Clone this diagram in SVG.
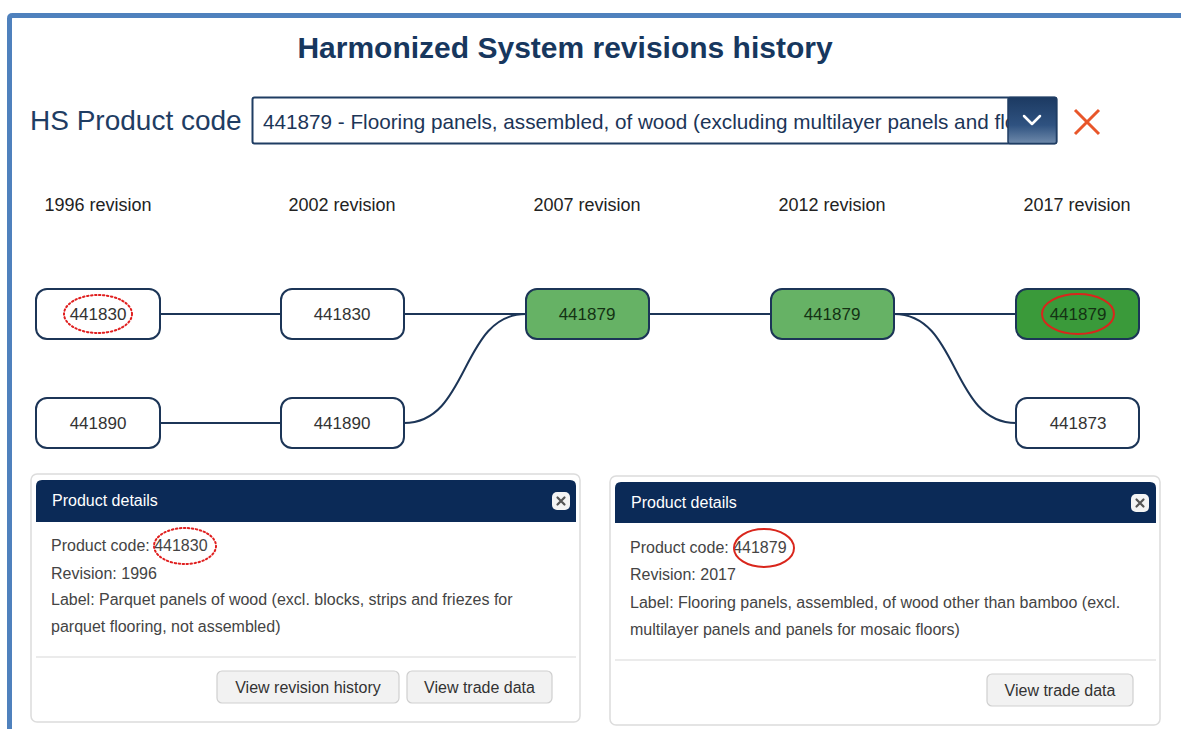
<svg xmlns="http://www.w3.org/2000/svg" width="1181" height="729" viewBox="0 0 1181 729">
  <defs>
    <style>
      text { font-family: "Liberation Sans", Arial, sans-serif; }
      .rev { font-size: 18px; fill: #222; text-anchor: middle; }
      .node { fill: #fff; stroke: #1c3557; stroke-width: 2; }
      .node.g1 { fill: #66b265; }
      .node.g2 { fill: #3a9a3a; }
      .ntxt { font-size: 17px; fill: #333; text-anchor: middle; }
      .ntxt.dk { fill: #143214; }
      .conn { fill: none; stroke: #1c3557; stroke-width: 2; }
      .panel { fill: #fff; stroke: #dcdcdc; stroke-width: 1.5; }
      .phead { fill: #0b2a57; }
      .ptitle { font-size: 16px; fill: #fff; }
      .body { font-size: 16px; fill: #444; }
      .sep { stroke: #e5e5e5; stroke-width: 1.5; }
      .btn { fill: #f2f2f2; stroke: #cfcfcf; stroke-width: 1.2; }
      .btxt { font-size: 16px; fill: #333; text-anchor: middle; }
      .close { fill: #f4f4f4; }
      .closex { stroke: #555; stroke-width: 2.2; stroke-linecap: round; }
      .hl-dot { fill: none; stroke: #e02020; stroke-width: 2; stroke-dasharray: 1.5 2.5; stroke-linecap: round; }
      .hl { fill: none; stroke: #d9261c; stroke-width: 2; }
    </style>
    <linearGradient id="btnGrad" x1="0" y1="0" x2="0" y2="1">
      <stop offset="0" stop-color="#1c3a62"/>
      <stop offset="0.6" stop-color="#2f5280"/>
      <stop offset="1" stop-color="#6f8aab"/>
    </linearGradient>
    <clipPath id="ddClip">
      <rect x="254" y="98" width="754" height="45"/>
    </clipPath>
  </defs>

  <rect x="0" y="0" width="1181" height="729" fill="#fff"/>
  <!-- outer frame -->
  <path d="M9.5 729 V18.5 Q9.5 15.5 12.5 15.5 H1181" fill="none" stroke="#4f81bd" stroke-width="5"/>

  <text x="565" y="58" font-size="30" font-weight="bold" fill="#17375e" text-anchor="middle">Harmonized System revisions history</text>

  <g id="selector">
    <text x="30" y="130" font-size="28" fill="#1f3d63">HS Product code</text>
    <rect x="252.5" y="97.5" width="804" height="46" rx="2" fill="#fff" stroke="#1f3d63" stroke-width="2"/>
    <text x="263" y="129" font-size="20.7" fill="#1c3557" clip-path="url(#ddClip)">441879 - Flooring panels, assembled, of wood (excluding multilayer panels and floors)</text>
    <rect x="1008" y="97.5" width="48.5" height="46" rx="2" fill="url(#btnGrad)" stroke="#1f3d63" stroke-width="1.5"/>
    <path d="M1024 116 L1032 124 L1040 116" fill="none" stroke="#fff" stroke-width="2.5" stroke-linecap="round" stroke-linejoin="round"/>
    <path d="M1075 110 L1099 134 M1099 110 L1075 134" stroke="#e8562a" stroke-width="3"/>
  </g>

  <g id="revision-labels">
    <text class="rev" x="98" y="211">1996 revision</text>
    <text class="rev" x="342" y="211">2002 revision</text>
    <text class="rev" x="587" y="211">2007 revision</text>
    <text class="rev" x="832" y="211">2012 revision</text>
    <text class="rev" x="1077" y="211">2017 revision</text>
  </g>

  <g id="connectors">
    <path class="conn" d="M160 314 H281"/>
    <path class="conn" d="M404 314 H526"/>
    <path class="conn" d="M649 314 H771"/>
    <path class="conn" d="M894 314 H1016"/>
    <path class="conn" d="M160 423 H281"/>
    <path class="conn" d="M404 423 C470 423 460 314 526 314"/>
    <path class="conn" d="M894 314 C960 314 950 423 1016 423"/>
  </g>

  <g id="n1996a">
    <rect class="node" x="36" y="289" width="124" height="50" rx="11"/>
    <text class="ntxt" x="98" y="320">441830</text>
    <ellipse class="hl-dot" cx="98" cy="314" rx="34" ry="19"/>
  </g>
  <g id="n1996b">
    <rect class="node" x="36" y="398" width="124" height="50" rx="11"/>
    <text class="ntxt" x="98" y="429">441890</text>
  </g>
  <g id="n2002a">
    <rect class="node" x="281" y="289" width="123" height="50" rx="11"/>
    <text class="ntxt" x="342" y="320">441830</text>
  </g>
  <g id="n2002b">
    <rect class="node" x="281" y="398" width="123" height="50" rx="11"/>
    <text class="ntxt" x="342" y="429">441890</text>
  </g>
  <g id="n2007">
    <rect class="node g1" x="526" y="289" width="123" height="50" rx="11"/>
    <text class="ntxt dk" x="587" y="320">441879</text>
  </g>
  <g id="n2012">
    <rect class="node g1" x="771" y="289" width="123" height="50" rx="11"/>
    <text class="ntxt dk" x="832" y="320">441879</text>
  </g>
  <g id="n2017a">
    <rect class="node g2" x="1016" y="289" width="123" height="50" rx="11"/>
    <text class="ntxt dk" x="1078" y="320">441879</text>
    <ellipse class="hl" cx="1078" cy="314" rx="36" ry="20"/>
  </g>
  <g id="n2017b">
    <rect class="node" x="1016" y="398" width="123" height="50" rx="11"/>
    <text class="ntxt" x="1078" y="429">441873</text>
  </g>

  <g id="panel-left">
    <rect class="panel" x="31" y="474" width="549" height="248" rx="6"/>
    <path class="phead" d="M36 522 V486 Q36 480 42 480 H570 Q576 480 576 486 V522 Z"/>
    <text class="ptitle" x="52" y="506">Product details</text>
    <rect class="close" x="552" y="492" width="18" height="18" rx="5"/>
    <path class="closex" d="M557.5 497.5 L564.5 504.5 M564.5 497.5 L557.5 504.5"/>
    <text class="body" x="51" y="551">Product code: 441830</text>
    <ellipse class="hl-dot" cx="185" cy="546" rx="31" ry="18"/>
    <text class="body" x="51" y="579">Revision: 1996</text>
    <text class="body" x="51" y="605">Label: Parquet panels of wood (excl. blocks, strips and friezes for</text>
    <text class="body" x="51" y="632">parquet flooring, not assembled)</text>
    <line class="sep" x1="36" y1="657" x2="576" y2="657"/>
    <rect class="btn" x="217" y="671" width="182" height="32" rx="5"/>
    <text class="btxt" x="308" y="693">View revision history</text>
    <rect class="btn" x="407" y="671" width="145" height="32" rx="5"/>
    <text class="btxt" x="479.5" y="693">View trade data</text>
  </g>

  <g id="panel-right">
    <rect class="panel" x="610" y="476" width="550" height="249" rx="6"/>
    <path class="phead" d="M615 523 V488 Q615 482 621 482 H1150 Q1156 482 1156 488 V523 Z"/>
    <text class="ptitle" x="631" y="508">Product details</text>
    <rect class="close" x="1131" y="494" width="18" height="18" rx="5"/>
    <path class="closex" d="M1136.5 499.5 L1143.5 506.5 M1143.5 499.5 L1136.5 506.5"/>
    <text class="body" x="630" y="553">Product code: 441879</text>
    <ellipse class="hl" cx="764" cy="548" rx="30" ry="19"/>
    <text class="body" x="630" y="580">Revision: 2017</text>
    <text class="body" x="630" y="608">Label: Flooring panels, assembled, of wood other than bamboo (excl.</text>
    <text class="body" x="630" y="635">multilayer panels and panels for mosaic floors)</text>
    <line class="sep" x1="615" y1="660" x2="1156" y2="660"/>
    <rect class="btn" x="987" y="674" width="146" height="32" rx="5"/>
    <text class="btxt" x="1060" y="696">View trade data</text>
  </g>
</svg>
